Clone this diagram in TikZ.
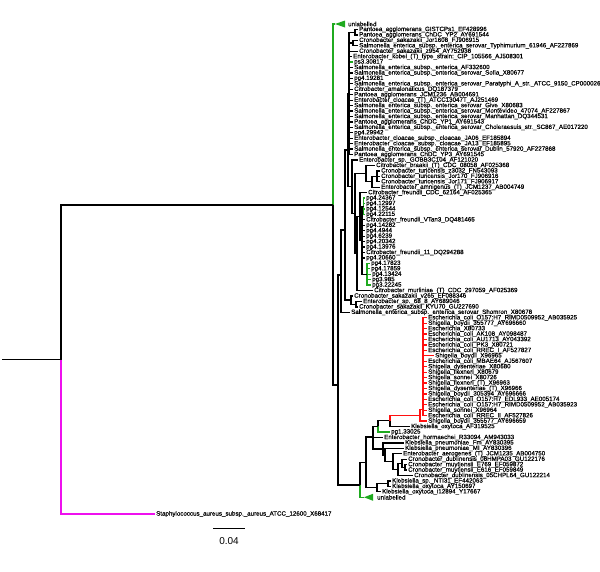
\documentclass[tikz,border=0pt]{standalone}
\usepackage{fontspec}
\setmainfont{Liberation Sans}
\newfontfamily\leaffont{Liberation Sans}[FakeBold=0.3]
\usepackage{xcolor}
\usepackage{tikz}
\definecolor{treegreen}{HTML}{1FAA1F}
\definecolor{treered}{HTML}{FF1010}
\definecolor{treemag}{HTML}{EE10EE}

\tikzset{
  blackbr/.style={line width=1.3pt, black},
  greenbr/.style={line width=1.3pt, treegreen},
  redbr/.style={line width=1.3pt, treered},
  magbr/.style={line width=1.3pt, treemag},
  leaf/.style={anchor=west, inner xsep=1.5pt, inner ysep=0pt, font=\leaffont\fontsize{6.2}{6.5}\selectfont},
}

\begin{document}
\begin{tikzpicture}[x=1pt, y=-1pt]
  \useasboundingbox (0,0) rectangle (600,571);
  % inner nodes, upper part
  \coordinate (stub) at (2,359.5);
  \coordinate (R) at (61,359.5);
  \coordinate (A) at (333,205);
  \coordinate (B) at (338,385);
  \coordinate (C) at (341,275);
  \coordinate (J) at (345,230);
  \coordinate (I) at (348,150);
  \coordinate (P) at (349,93.4);
  \coordinate (UPa) at (355,32.2);
  \coordinate (UPb) at (353,43);
  \coordinate (H) at (352,186.5);
  \coordinate (G) at (355,213.6);
  \coordinate (T3) at (366,173.6);
  \coordinate (T2) at (372,181.8);
  \coordinate (T1) at (377,176.3);
  \coordinate (F0) at (357,253.5);
  \coordinate (F1) at (360,216.4);
  \coordinate (F2) at (362,240.2);
  \coordinate (F4) at (363.5,206.2);
  \coordinate (F3) at (367,274.2);
  \coordinate (S2) at (351,300.1);
  \coordinate (S1) at (356,304.2);
  % inner nodes, lower part
  \coordinate (KM) at (360,485);
  \coordinate (KW) at (366,462.8);
  \coordinate (KX) at (373,437);
  \coordinate (KQ) at (378,426.4);
  \coordinate (RK) at (390,420.8);
  \coordinate (RED0) at (420,415.4);
  \coordinate (RR) at (423,409.7);
  \coordinate (KP) at (383,449);
  \coordinate (KY) at (385,455);
  \coordinate (EA) at (393,461.6);
  \coordinate (CD1) at (398,469.4);
  \coordinate (CD2) at (402,463.3);
  \coordinate (MU) at (405,467.4);
  \coordinate (KZ) at (377,487.8);
  \coordinate (KN) at (388,483.7);
  % collapsed clades
  \node[leaf] (l1) at (346.5,24) {unlabelled};
  \node[leaf] (l88) at (375.5,497.28) {unlabelled};
  \coordinate (U1) at (335,24);
  \coordinate (U2) at (364,497.28);
  \fill[treegreen] (U1) -- ++(10,-3.5) -- ++(0,7) -- cycle;
  \fill[treegreen] (U2) -- ++(9,-3.5) -- ++(0,7) -- cycle;
  \draw[greenbr] (A) |- (U1);
  \draw[greenbr] (KM) |- (U2);
  % tips
  \foreach \i/\x/\p/\s/\t in {
    2/359/UPa/blackbr/Pantoea\_agglomerans\_GISTCPs1\_EF428996,
    3/359/UPa/blackbr/Pantoea\_agglomerans\_ChDC\_YP2\_AY691544,
    4/359/UPb/blackbr/Cronobacter\_sakazakii\_Jor1608\_FJ906915,
    5/359/UPb/blackbr/Salmonella\_enterica\_subsp.\_enterica\_serovar\_Typhimurium\_61946\_AF227869,
    6/359/P/blackbr/Cronobacter\_sakazakii\_z954\_AY752938,
    7/353/P/blackbr/Enterobacter\_kobei\_(T)\_type\_strain:\_CIP\_105566\_AJ508301,
    8/354/P/greenbr/ps3.30817,
    9/354/P/blackbr/Salmonella\_enterica\_subsp.\_enterica\_AF332600,
    10/354/P/blackbr/Salmonella\_enterica\_subsp.\_enterica\_serovar\_Sofia\_X80677,
    11/354/P/blackbr/pg4.19281,
    12/354/P/blackbr/Salmonella\_enterica\_subsp.\_enterica\_serovar\_Paratyphi\_A\_str.\_ATCC\_9150\_CP000026,
    13/354/P/blackbr/Citrobacter\_amalonaticus\_DQ187379,
    14/354/P/blackbr/Pantoea\_agglomerans\_JCM1236\_AB004691,
    15/354/P/blackbr/Enterobacter\_cloacae\_(T)\_ATCC13047T\_AJ251469,
    16/354/P/blackbr/Salmonella\_enterica\_subsp.\_enterica\_serovar\_Give\_X80683,
    17/354/P/blackbr/Salmonella\_enterica\_subsp.\_enterica\_serovar\_Montevideo\_47074\_AF227867,
    18/354/P/blackbr/Salmonella\_enterica\_subsp.\_enterica\_serovar\_Manhattan\_DQ344531,
    19/354/P/blackbr/Pantoea\_agglomerans\_ChDC\_YP1\_AY691543,
    20/354/P/blackbr/Salmonella\_enterica\_subsp.\_enterica\_serovar\_Choleraesuis\_str.\_SC867\_AE017220,
    21/354/P/blackbr/pg4.29942,
    22/354/P/blackbr/Enterobacter\_cloacae\_subsp.\_cloacae\_JA06\_EF185894,
    23/354/P/blackbr/Enterobacter\_cloacae\_subsp.\_cloacae\_JA13\_EF185895,
    24/354/P/blackbr/Salmonella\_enterica\_subsp.\_enterica\_serovar\_Dublin\_57920\_AF227868,
    25/354/P/blackbr/Pantoea\_agglomerans\_ChDC\_YP3\_AY691545,
    26/359/H/blackbr/Enterobacter\_sp.\_GOBB3C104\_AF121020,
    27/376/T3/blackbr/Citrobacter\_braakii\_(T)\_CDC\_08058\_AF025368,
    28/381/T1/blackbr/Cronobacter\_turicensis\_z3032\_FN543093,
    29/381/T1/blackbr/Cronobacter\_turicensis\_Jor170\_FJ906916,
    30/381/T1/blackbr/Cronobacter\_turicensis\_Jor171\_FJ906917,
    31/381/T2/blackbr/Enterobacter\_amnigenus\_(T)\_JCM1237\_AB004749,
    32/368/F1/blackbr/Citrobacter\_freundii\_CDC\_62164\_AF025365,
    33/366/F4/greenbr/pg4.24367,
    34/366/F4/greenbr/pg4.12997,
    35/366/F4/greenbr/pg4.12544,
    36/366/F4/greenbr/pg4.22115,
    37/366/F2/blackbr/Citrobacter\_freundii\_VTan3\_DQ481465,
    38/366/F2/blackbr/pg4.14282,
    39/366/F2/blackbr/pg4.4944,
    40/366/F2/blackbr/pg4.6239,
    41/366/F2/blackbr/pg4.20342,
    42/366/F2/blackbr/pg4.13976,
    43/366/F2/blackbr/Citrobacter\_freundii\_11\_DQ294288,
    44/366/F2/blackbr/pg4.20660,
    45/371/F3/greenbr/pg4.17823,
    46/371/F3/greenbr/pg4.17859,
    47/372/F3/greenbr/pg4.13424,
    48/372/F3/greenbr/pg3.985,
    49/372/F3/greenbr/pg3.22245,
    50/374/F0/blackbr/Citrobacter\_murliniae\_(T)\_CDC\_297059\_AF025369,
    51/354/S2/blackbr/Cronobacter\_sakazakii\_v265\_EF088346,
    52/363/S1/blackbr/Enterobacter\_sp.\_68\_8\_AY689046,
    53/359/S1/blackbr/Cronobacter\_sakazakii\_KYU70\_GU227690,
    54/351/C/blackbr/Salmonella\_enterica\_subsp.\_enterica\_serovar\_Shomron\_X80678,
    55/428/RR/redbr/Escherichia\_coli\_O157:H7\_RIMD0509952\_AB035925,
    56/428/RR/redbr/Shigella\_boydii\_355777\_AY696660,
    57/428/RR/redbr/Escherichia\_X80733,
    58/428/RR/redbr/Escherichia\_coli\_AK108\_AY098487,
    59/428/RR/redbr/Escherichia\_coli\_AU1713\_AY043392,
    60/428/RR/redbr/Escherichia\_coli\_PK3\_X80721,
    61/428/RR/redbr/Escherichia\_coli\_RREC\_I\_AF527827,
    62/435/RR/redbr/Shigella\_boydii\_X96965,
    63/428/RR/redbr/Escherichia\_coli\_MBAE64\_AJ567607,
    64/428/RR/redbr/Shigella\_dysenteriae\_X80680,
    65/428/RR/redbr/Shigella\_flexneri\_X80679,
    66/428/RR/redbr/Shigella\_sonnei\_X80726,
    67/428/RR/redbr/Shigella\_flexneri\_(T)\_X96963,
    68/428/RR/redbr/Shigella\_dysenteriae\_(T)\_X96966,
    69/428/RR/redbr/Shigella\_boydii\_305394\_AY696666,
    70/428/RR/redbr/Escherichia\_coli\_O157:H7\_EDL933\_AE005174,
    71/428/RR/redbr/Escherichia\_coli\_O157:H7\_RIMD0509952\_AB035923,
    72/428/RR/redbr/Shigella\_sonnei\_X96964,
    73/428/RR/redbr/Escherichia\_coli\_RREC\_II\_AF527826,
    74/428/RED0/redbr/Shigella\_boydii\_355577\_AY696659,
    75/411/RK/blackbr/Klebsiella\_oxytoca\_AF319525,
    76/391/KQ/greenbr/pg1.33025,
    77/384/KX/blackbr/Enterobacter\_hormaechei\_R33094\_AM943033,
    78/405/KP/blackbr/Klebsiella\_pneumoniae\_Fm\_AY830395,
    79/405/KY/blackbr/Klebsiella\_pneumoniae\_MI\_AY830396,
    80/403/EA/blackbr/Enterobacter\_aerogenes\_(T)\_JCM1235\_AB004750,
    81/408/CD2/blackbr/Cronobacter\_dublinensis\_08HMPA03\_GU122176,
    82/408/MU/blackbr/Cronobacter\_muytjensii\_E769\_EF059872,
    83/408/MU/blackbr/Cronobacter\_muytjensii\_E616\_EF059849,
    84/414/CD1/blackbr/Cronobacter\_dublinensis\_05CHPL64\_GU122214,
    85/392/KN/blackbr/Klebsiella\_sp.\_NTI31\_EF442063,
    86/392/KN/blackbr/Klebsiella\_oxytoca\_AY150697,
    87/382/KZ/blackbr/Klebsiella\_oxytoca\_i12894\_Y17667}
  {
    \node[leaf] (l\i) at ({\x-1.5},{24+(\i-1)*5.44}) {\t};
    \draw[\s] (\p) |- (l\i.west);
  }
  % outgroup
  \node[leaf] (l89) at (154.5,514) {Staphylococcus\_aureus\_subsp.\_aureus\_ATCC\_12600\_X68417};
  \draw[blackbr] (stub) -- (R);
  \draw[blackbr] (R) |- (A);
  \draw[magbr] (R) |- (l89.west);
  % inner branches
  \foreach \p/\c in {A/B, B/C, B/KM, C/J, J/I, J/S2, S2/S1, I/P, P/UPa, P/UPb,
                     I/H, H/G, G/T3, T3/T2, T2/T1, G/F0, F0/F1, F1/F2, F2/F4, F2/F3,
                     KM/KW, KW/KX, KW/KZ, KZ/KN, KX/KQ, KQ/RK, KX/KP, KP/KY,
                     KY/EA, EA/CD1, CD1/CD2, CD2/MU}
    \draw[blackbr] (\p) |- (\c);
  \draw[redbr] (RK) |- (RED0);
  \draw[redbr] (RED0) |- (RR);
  % scale bar
  \coordinate (sb1) at (213,528);
  \coordinate (sb2) at (245,528);
  \draw[line width=0.8pt] (sb1) -- (sb2);
  \node[font=\fontsize{10}{11}\selectfont] (sblabel) at (229,541) {0.04};
\end{tikzpicture}
\end{document}
